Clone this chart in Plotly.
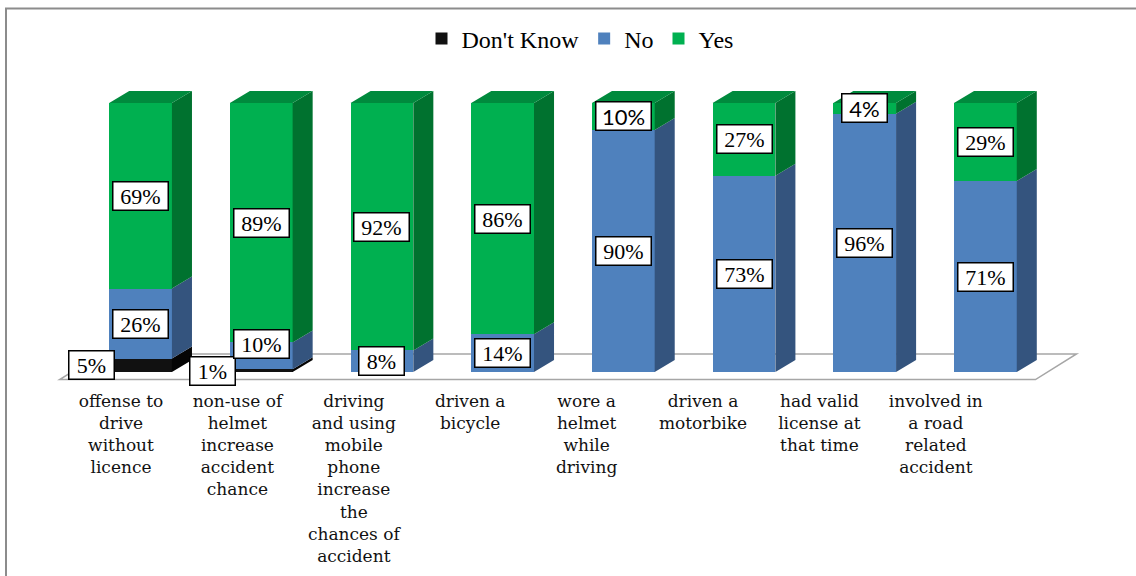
import plotly.graph_objects as go

categories = [
    "offense to<br>drive<br>without<br>licence",
    "non-use of<br>helmet<br>increase<br>accident<br>chance",
    "driving<br>and using<br>mobile<br>phone<br>increase<br>the<br>chances of<br>accident",
    "driven a<br>bicycle",
    "wore a<br>helmet<br>while<br>driving",
    "driven a<br>motorbike",
    "had valid<br>license at<br>that time",
    "involved in<br>a road<br>related<br>accident",
]
dont_know = [5, 1, 0, 0, 0, 0, 0, 0]
no = [26, 10, 8, 14, 90, 73, 96, 71]
yes = [69, 89, 92, 86, 10, 27, 4, 29]

series = [
    ("Don't Know", dont_know, "#111111", "#050505", "#2a2a2a"),
    ("No", no, "#4F81BD", "#34547E", "#3E6899"),
    ("Yes", yes, "#00B050", "#00722F", "#008A3D"),
]

SERIF = "Liberation Serif"
n = len(categories)
xs = list(range(n))
W = 0.52      # bar width (category units)
DX = 0.166    # depth offset x
DY = 4.46     # depth offset y (percent units)

fig = go.Figure()

# floor (drawn below everything)
fx0, fx1 = -0.67, n - 1 + 0.415
fy0, fy1 = -2.8, 6.7
fdx = 0.34
fig.add_shape(type="path", xref="x", yref="y", layer="below",
              path=f"M{fx0},{fy0} L{fx1},{fy0} L{fx1+fdx},{fy1} L{fx0+fdx},{fy1} Z",
              line=dict(color="#a6a6a6", width=1.5), fillcolor="white")

# front faces
for name, vals, front, side, top in series:
    fig.add_trace(go.Bar(x=xs, y=vals, name=name, width=W,
                         marker=dict(color=front, line=dict(width=0)),
                         hoverinfo="skip"))

# side and top faces computed from the data
bottoms = [0] * n
tops_total = [dont_know[i] + no[i] + yes[i] for i in range(n)]
for name, vals, front, side, top in series:
    sx, sy, tx, ty = [], [], [], []
    for i in range(n):
        v = vals[i]
        if v <= 0:
            continue
        y0 = bottoms[i]
        y1 = y0 + v
        xr = i + W / 2
        sx += [xr, xr + DX, xr + DX, xr, xr, None]
        sy += [y0, y0 + DY, y1 + DY, y1, y0, None]
        if abs(y1 - tops_total[i]) < 1e-9:
            xl = i - W / 2
            tx += [xl, xr, xr + DX, xl + DX, xl, None]
            ty += [y1, y1, y1 + DY, y1 + DY, y1, None]
        bottoms[i] = y1
    fig.add_trace(go.Scatter(x=sx, y=sy, mode="lines", fill="toself",
                             fillcolor=side, line=dict(width=0, color=side),
                             showlegend=False, hoverinfo="skip"))
    if tx:
        fig.add_trace(go.Scatter(x=tx, y=ty, mode="lines", fill="toself",
                                 fillcolor=top, line=dict(width=0, color=top),
                                 showlegend=False, hoverinfo="skip"))

# category labels on a helper axis
fig.add_trace(go.Scatter(x=xs, y=[0] * n, xaxis="x2", mode="markers",
                         marker=dict(opacity=0), showlegend=False, hoverinfo="skip"))

# value labels
label_xshift = {"Don't Know": -49}
label_yshift = {("No", 1): 12}
sans_labels = {("Yes", 4), ("Yes", 6)}
base = [0] * n
for name, vals, *_ in series:
    for i in range(n):
        v = vals[i]
        if v <= 0:
            continue
        yc = base[i] + v / 2
        base[i] += v
        txt = f"{v}%"
        fam = "Lato" if (name, i) in sans_labels else SERIF
        fig.add_annotation(x=i, y=yc, xref="x", yref="y", text=txt,
                           showarrow=False,
                           xshift=label_xshift.get(name, 0),
                           yshift=label_yshift.get((name, i), 0),
                           font=dict(family=fam, size=22, color="black"),
                           bgcolor="white", bordercolor="black", borderwidth=1.5,
                           borderpad=2, width=50 if v >= 10 else 40, height=23)

# outer frame
fig.add_shape(type="rect", xref="paper", yref="paper",
              x0=(6 - 44) / 1050, x1=1.2, y0=-1.0, y1=(385 - 8.5) / 315,
              line=dict(color="#8c8c8c", width=2), fillcolor="rgba(0,0,0,0)",
              layer="below")

fig.update_layout(
    width=1136, height=576,
    margin=dict(l=44, r=42, t=70, b=191, autoexpand=False),
    plot_bgcolor="white", paper_bgcolor="white",
    barmode="stack",
    font=dict(family=SERIF, color="black"),
    showlegend=True,
    legend=dict(orientation="h", xref="container", yref="container",
                x=580 / 1136, xanchor="center", y=1 - 39 / 576, yanchor="middle",
                font=dict(family=SERIF, size=24, color="black"),
                itemwidth=30, tracegroupgap=0, traceorder="normal"),
    xaxis=dict(range=[-0.8, 7.9], showgrid=False, zeroline=False,
               showticklabels=False, showline=False, fixedrange=True,
               automargin=False),
    xaxis2=dict(range=[-0.6615, 8.359], overlaying="x", anchor="y", side="bottom",
                tickmode="array", tickvals=xs, ticktext=categories,
                showgrid=False, zeroline=False, showline=False, ticks="",
                tickfont=dict(family="DejaVu Serif", size=17, color="#111"),
                tickangle=0, automargin=False, ticklabelstandoff=4),
    yaxis=dict(range=[-(385 - 372) / 2.69, (372 - 70) / 2.69], showgrid=False,
               zeroline=False, showticklabels=False, showline=False,
               automargin=False),
)

fig.write_html("out.html", config={"displayModeBar": False},
               post_script="document.body.style.margin='0';")
